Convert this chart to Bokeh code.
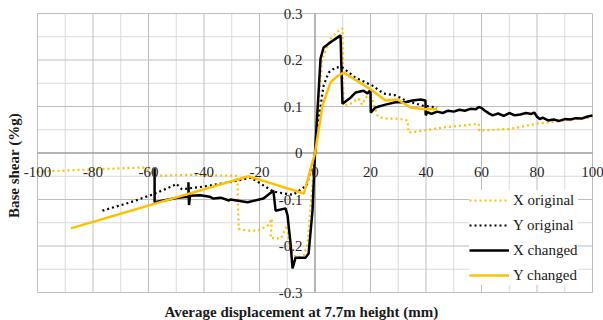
import math
from bokeh.plotting import figure
from bokeh.models import (Range1d, Legend, LegendItem, LabelSet, Label,
                          ColumnDataSource)
from bokeh.embed import file_html
from bokeh.resources import INLINE

# ---------------- data ----------------
x_orig_x = [-100, -62, -57, -46, -28, -27.5, -24.5, -20.5, -17, -15.5, -16, -12.3,
            -10, -9.5, -8, -6, -4, -2.7, 0, 2.5, 5.6, 8.5, 9.9, 10.3, 12.8, 15.7,
            17, 18.2, 19.3, 20.5, 22.5, 24.7, 30, 33.3, 33.7, 39, 46.3, 59, 59.2,
            70.5, 80, 100]
x_orig_y = [-0.040, -0.031, -0.049, -0.047, -0.049, -0.163, -0.167, -0.167, -0.156,
            -0.141, -0.183, -0.184, -0.156, -0.190, -0.220, -0.225, -0.220, -0.196,
            0.0, 0.200, 0.246, 0.263, 0.268, 0.102, 0.106, 0.117, 0.104, 0.119,
            0.124, 0.118, 0.081, 0.074, 0.074, 0.070, 0.044, 0.048, 0.055, 0.063,
            0.048, 0.052, 0.063, 0.077]

y_orig_x = [-76.6, -66.5, -58, -51, -50, -48, -40, -30, -23, -15, -8, -3, 0, 1.5,
            3.1, 4.9, 7.4, 9.9, 14.6, 20.7, 24.7, 29, 32.6, 38.7, 44]
y_orig_y = [-0.124, -0.106, -0.088, -0.070, -0.066, -0.078, -0.072, -0.062, -0.053,
            -0.083, -0.090, -0.070, 0.0, 0.080, 0.145, 0.173, 0.184, 0.184, 0.162,
            0.145, 0.128, 0.124, 0.113, 0.102, 0.098]

x_chg_x = [-57.8, -57.8, -49.5, -45.6, -45.6, -45.4, -45, -41.3, -38, -36.6, -34,
           -31, -30.5, -24.3, -18.6, -15, -14.2, -10.6, -9.9, -8.8, -8.1, -7.0,
           -3.4, -2.3, -0.9, 0, 2, 3.1, 5.6, 9.2, 9.9, 12.8, 14.6, 17.5, 18.9,
           20, 20.1, 21.8, 25.4, 29, 32.6, 35.1, 38, 39.8, 39.9, 40.5, 42, 44, 46,
           48, 50, 52, 54, 56, 58, 59, 60, 61, 62, 63, 64, 66, 68, 70, 72, 74, 76,
           78, 79, 80, 81, 82, 84, 86, 88, 90, 92, 94, 96, 98, 100]
x_chg_y = [-0.033, -0.106, -0.096, -0.094, -0.063, -0.112, -0.092, -0.091, -0.094,
           -0.098, -0.096, -0.102, -0.100, -0.106, -0.098, -0.081, -0.124, -0.119,
           -0.134, -0.195, -0.248, -0.225, -0.225, -0.216, -0.124, 0.0, 0.203,
           0.227, 0.238, 0.253, 0.106, 0.119, 0.130, 0.134, 0.128, 0.136, 0.087,
           0.098, 0.104, 0.109, 0.109, 0.113, 0.115, 0.113, 0.081, 0.088, 0.084,
           0.089, 0.086, 0.091, 0.089, 0.093, 0.091, 0.095, 0.094, 0.099, 0.097,
           0.092, 0.088, 0.084, 0.081, 0.085, 0.080, 0.086, 0.081, 0.083, 0.086,
           0.084, 0.087, 0.078, 0.073, 0.076, 0.070, 0.072, 0.069, 0.073, 0.072,
           0.075, 0.074, 0.078, 0.081]

y_chg_x = [-88, -24, -4, 0, 2.7, 5.6, 8, 10.3, 20, 25.4, 29.7, 34.4, 39.8, 44]
y_chg_y = [-0.162, -0.050, -0.087, 0.0, 0.102, 0.152, 0.165, 0.173, 0.137, 0.113,
           0.115, 0.098, 0.094, 0.094]

x_ticks = [-100, -80, -60, -40, -20, 0, 20, 40, 60, 80, 100]
x_minor = [-90, -70, -50, -30, -10, 10, 30, 50, 70, 90]
y_ticks = [-0.3, -0.2, -0.1, 0.0, 0.1, 0.2, 0.3]
y_minor = [-0.25, -0.15, -0.05, 0.05, 0.15, 0.25]
x_tick_labels = ["-100", "-80", "-60", "-40", "-20", "0", "20", "40", "60", "80", "100"]
y_tick_labels = ["-0.3", "-0.2", "-0.1", "0", "0.1", "0.2", "0.3"]

series_names = ["X original", "Y original", "X changed", "Y changed"]
x_title = "Average displacement at 7.7m height (mm)"
y_title = "Base shear (%g)"

GOLD = "#FFC000"
FONT = "Liberation Serif, Times New Roman, serif"
XMIN, XMAX = x_ticks[0], x_ticks[-1]
YMIN, YMAX = y_ticks[0], y_ticks[-1]

# Frame covers the whole canvas; the chart box (-100..100, -0.3..0.3) sits inside it
p = figure(width=603, height=320, x_range=Range1d(-113.33, 103.96),
           y_range=Range1d(-0.3602, 0.328), output_backend="svg",
           toolbar_location=None, x_axis_type=None, y_axis_type=None,
           min_border=0, min_border_left=0, min_border_right=0,
           min_border_top=0, min_border_bottom=0)
p.outline_line_color = None
p.grid.visible = False

# grid lines (minor then major)
p.segment(x0=x_minor, x1=x_minor, y0=[YMIN] * len(x_minor), y1=[YMAX] * len(x_minor),
          line_color="#DADADA", line_width=1)
p.segment(x0=[XMIN] * len(y_minor), x1=[XMAX] * len(y_minor), y0=y_minor, y1=y_minor,
          line_color="#DADADA", line_width=1)
p.segment(x0=x_ticks, x1=x_ticks, y0=[YMIN] * len(x_ticks), y1=[YMAX] * len(x_ticks),
          line_color="#BDBDBD", line_width=1)
p.segment(x0=[XMIN] * len(y_ticks), x1=[XMAX] * len(y_ticks), y0=y_ticks, y1=y_ticks,
          line_color="#BDBDBD", line_width=1)
# axis lines through the origin
p.segment(x0=[0, XMIN], x1=[0, XMAX], y0=[YMIN, 0], y1=[YMAX, 0],
          line_color="#8C8C8C", line_width=1)

r1 = p.line(x_orig_x, x_orig_y, line_color=GOLD, line_width=2.2, line_dash="2 3")
r2 = p.line(y_orig_x, y_orig_y, line_color="black", line_width=2.2, line_dash="2 3")
r3 = p.line(x_chg_x, x_chg_y, line_color="black", line_width=2.5)
r4 = p.line(y_chg_x, y_chg_y, line_color=GOLD, line_width=2.5)

# tick labels
xsrc = ColumnDataSource(dict(x=x_ticks, y=[-0.04] * len(x_ticks), t=x_tick_labels))
p.add_layout(LabelSet(x="x", y="y", text="t", source=xsrc, text_align="center",
                      text_baseline="middle", text_font=FONT,
                      text_font_size="15px", text_color="#262626"))
ysrc = ColumnDataSource(dict(x=[-4.5] * len(y_ticks), y=y_ticks, t=y_tick_labels))
p.add_layout(LabelSet(x="x", y="y", text="t", source=ysrc, text_align="right",
                      text_baseline="middle", text_font=FONT,
                      text_font_size="15px", text_color="#262626"))

# axis titles
p.add_layout(Label(x=-4.9, y=-0.341, text=x_title, text_align="center",
                   text_baseline="middle", text_font=FONT, text_font_style="bold",
                   text_font_size="15px", text_color="#1a1a1a"))
p.add_layout(Label(x=-108.3, y=-0.027, text=y_title, text_align="center",
                   text_baseline="middle", text_font=FONT, text_font_style="bold",
                   text_font_size="15px", text_color="#1a1a1a", angle=math.pi / 2))

legend = Legend(items=[LegendItem(label=n, renderers=[r]) for n, r in
                       zip(series_names, [r1, r2, r3, r4])],
                location=(469, 35), label_text_font=FONT, label_text_font_size="15px",
                glyph_width=40, glyph_height=20, label_height=20, spacing=5,
                padding=3, margin=0, border_line_color=None,
                background_fill_color="white", background_fill_alpha=1,
                label_standoff=4, label_text_color="#1a1a1a")
p.add_layout(legend)

open("out.html", "w").write(file_html(p, INLINE))
